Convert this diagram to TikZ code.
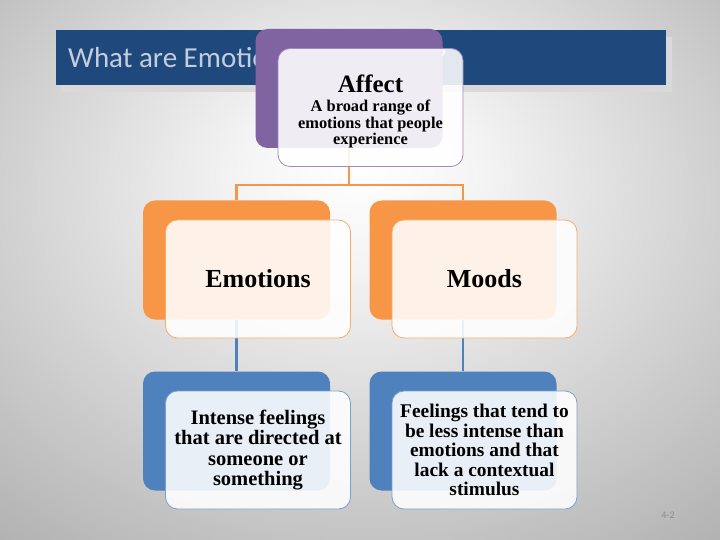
\documentclass[tikz,border=0pt]{standalone}
\usepackage{fontspec}
\setmainfont{Liberation Serif}
\newfontfamily\titlefont{Carlito}
\usetikzlibrary{positioning, calc}
\definecolor{affectpurple}{HTML}{8064A2}
\definecolor{emoorange}{HTML}{F79646}
\definecolor{descblue}{HTML}{4F81BD}
\definecolor{titleblue}{HTML}{1F497D}
\definecolor{titletext}{HTML}{C3CEDC}
\pgfdeclareradialshading{slidebg}{\pgfpoint{0bp}{10bp}}{color(0bp)=(white); color(8bp)=(white!96!black); color(48bp)=(white!62!black); color(72bp)=(white!52!black)}

\begin{document}
\begin{tikzpicture}[x=1pt, y=-1pt,
  backbox/.style={rectangle, rounded corners=12pt, minimum width=187pt, minimum height=119pt, inner sep=0pt},
  frontbox/.style={rectangle, rounded corners=12pt, minimum width=185pt, minimum height=118pt, inner sep=2pt, fill=white, fill opacity=0.88, text opacity=1, line width=0.8pt, align=center, font=\bfseries},
  link/.style={line width=2.5pt}]
  \useasboundingbox (0,0) rectangle (720,540);
  \shade[shading=slidebg] (0,0) rectangle (720,540);
  % title bar
  \fill[white!85!black] (61,37) rectangle (672,92);
  \fill[titleblue] (56,30) rectangle (666,85);
  \node[anchor=west, inner sep=0pt, text=titletext, font=\titlefont\fontsize{29}{34}\selectfont] (title) at (68,58) {What are Emotions and Moods?};
  % back boxes
  \node[backbox, fill=affectpurple] (affback) at (349,88.5) {};
  \node[backbox, fill=emoorange] (emoback) at (236.5,260) {};
  \node[backbox, fill=emoorange] (moodback) at (463,260) {};
  \node[backbox, fill=descblue] (emodback) at (236.5,431) {};
  \node[backbox, fill=descblue] (mooddback) at (463,431) {};
  % links
  \draw[link, emoorange] (affback.south) -- ++(0,37) coordinate (split) -| (emoback.north);
  \draw[link, emoorange] (split) -| (moodback.north);
  \draw[link, descblue] (emoback.south) -- (emodback.north);
  \draw[link, descblue] (moodback.south) -- (mooddback.north);
  % front boxes
  \node[frontbox, draw=affectpurple!75, font=\bfseries\fontsize{16.4}{16.5}\selectfont] (affect) at ($(affback)+(21.5,19)$)
    {{\fontsize{25}{26}\selectfont\rule{0pt}{25pt}Affect}\\[3pt]A broad range of\\emotions that people\\experience};
  \node[frontbox, draw=emoorange!80, font=\bfseries\fontsize{26}{28}\selectfont] (emotions) at ($(emoback)+(21.5,19)$) {Emotions};
  \node[frontbox, draw=emoorange!80, font=\bfseries\fontsize{26}{28}\selectfont] (moods) at ($(moodback)+(21.5,19)$) {Moods};
  \node[frontbox, draw=descblue!75, font=\bfseries\fontsize{20.5}{20.5}\selectfont] (emodesc) at ($(emodback)+(21.5,19)$)
    {Intense feelings\\that are directed at\\someone or\\something};
  \node[frontbox, draw=descblue!75, font=\bfseries\fontsize{19.4}{19.5}\selectfont] (mooddesc) at ($(mooddback)+(21.5,19)$)
    {Feelings that tend to\\be less intense than\\emotions and that\\lack a contextual\\stimulus};
  \node[text=white!55!black, font=\titlefont\fontsize{10}{12}\selectfont] (pagenum) at (668,515) {4-2};
\end{tikzpicture}
\end{document}
